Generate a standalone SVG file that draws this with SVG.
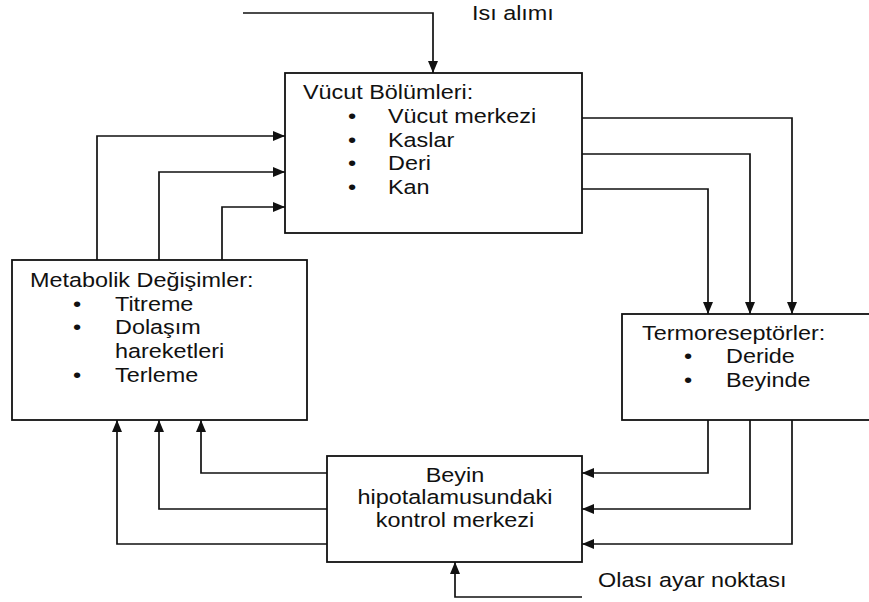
<svg xmlns="http://www.w3.org/2000/svg" width="869" height="602" viewBox="0 0 869 602">
<defs>
<marker id="arr" markerUnits="userSpaceOnUse" markerWidth="12" markerHeight="10" refX="12" refY="5" orient="auto">
<path d="M0,0 L12,5 L0,10 z" fill="#111"/>
</marker>
<style>
.box{fill:#fff;stroke:#111;stroke-width:1.8}
.ln{fill:none;stroke:#111;stroke-width:1.7;marker-end:url(#arr)}
text{font-family:"Liberation Sans",Arial,sans-serif;font-size:19.5px;fill:#111}
.c{text-anchor:middle}
</style>
</defs>
<rect width="869" height="602" fill="#fff"/>
<g id="connectors">
<path class="ln" d="M243,13 H433 V73"/>
<path class="ln" d="M97,260 V136 H285"/>
<path class="ln" d="M159,260 V172 H285"/>
<path class="ln" d="M222,260 V207 H285"/>
<path class="ln" d="M582,118 H792 V314"/>
<path class="ln" d="M582,154 H750 V314"/>
<path class="ln" d="M582,189 H708 V314"/>
<path class="ln" d="M708,420 V473 H582"/>
<path class="ln" d="M750,420 V509 H582"/>
<path class="ln" d="M792,420 V544 H582"/>
<path class="ln" d="M328,473 H201 V420"/>
<path class="ln" d="M328,509 H159 V420"/>
<path class="ln" d="M328,544 H117 V420"/>
<path class="ln" d="M582,597 H455 V562"/>
</g>
<g id="isi-alimi">
<text transform="translate(472 20) scale(1.2 1)">Isı alımı</text>
</g>
<g id="vucut-bolumleri">
<rect class="box" x="285" y="73" width="297" height="160"/>
<text transform="translate(303 99) scale(1.2 1)">Vücut Bölümleri:</text>
<text transform="translate(348 123) scale(1.2 1)">•</text>
<text transform="translate(388 123) scale(1.2 1)">Vücut merkezi</text>
<text transform="translate(348 147) scale(1.2 1)">•</text>
<text transform="translate(388 147) scale(1.2 1)">Kaslar</text>
<text transform="translate(348 170) scale(1.2 1)">•</text>
<text transform="translate(388 170) scale(1.2 1)">Deri</text>
<text transform="translate(348 194) scale(1.2 1)">•</text>
<text transform="translate(388 194) scale(1.2 1)">Kan</text>
</g>
<g id="metabolik-degisimler">
<rect class="box" x="12" y="260" width="295" height="160"/>
<text transform="translate(30 287) scale(1.2 1)">Metabolik Değişimler:</text>
<text transform="translate(73 311) scale(1.2 1)">•</text>
<text transform="translate(115 311) scale(1.2 1)">Titreme</text>
<text transform="translate(73 334) scale(1.2 1)">•</text>
<text transform="translate(115 334) scale(1.2 1)">Dolaşım</text>
<text transform="translate(115 358) scale(1.2 1)">hareketleri</text>
<text transform="translate(73 382) scale(1.2 1)">•</text>
<text transform="translate(115 382) scale(1.2 1)">Terleme</text>
</g>
<g id="termoreseptorler">
<rect class="box" x="622" y="314" width="260" height="106"/>
<text transform="translate(642 340) scale(1.2 1)">Termoreseptörler:</text>
<text transform="translate(684 363) scale(1.2 1)">•</text>
<text transform="translate(726 363) scale(1.2 1)">Deride</text>
<text transform="translate(684 387) scale(1.2 1)">•</text>
<text transform="translate(726 387) scale(1.2 1)">Beyinde</text>
</g>
<g id="kontrol-merkezi">
<rect class="box" x="327" y="456" width="255" height="106"/>
<text class="c" transform="translate(455 482) scale(1.2 1)">Beyin</text>
<text class="c" transform="translate(455 504) scale(1.2 1)">hipotalamusundaki</text>
<text class="c" transform="translate(455 527) scale(1.2 1)">kontrol merkezi</text>
</g>
<g id="olasi-ayar">
<text transform="translate(598 587) scale(1.2 1)">Olası ayar noktası</text>
</g>
</svg>
